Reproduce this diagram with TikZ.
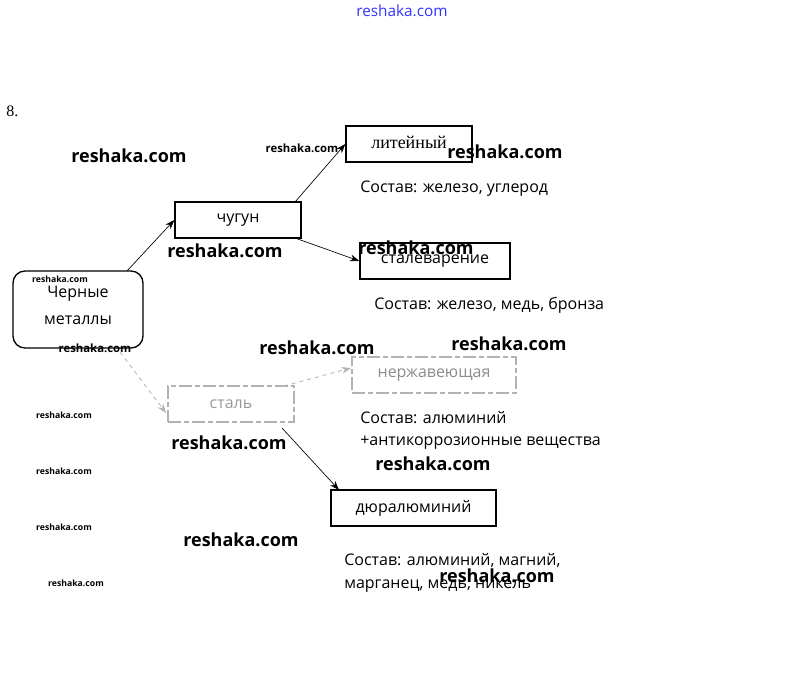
\documentclass[tikz,border=0pt]{standalone}
\usepackage{fontspec}
\setmainfont{Open Sans}
\newfontfamily\serifit{Liberation Serif}
\usetikzlibrary{arrows.meta}
\begin{document}
\begin{tikzpicture}[x=0.75pt,y=-0.75pt,
  box/.style={draw=black,line width=1pt,inner sep=0pt},
  fadebox/.style={draw=gray!60,line width=0.9pt,inner sep=0pt,dash pattern=on 10pt off 2pt on 4pt off 2pt},
  conn/.style={draw=black,line width=0.5pt,-{Stealth[length=7pt,width=5pt]}},
  fadeconn/.style={draw=gray!60,line width=0.6pt,dashed,-{Stealth[length=7pt,width=5pt]}},
  txt/.style={font=\fontsize{12}{13}\selectfont},
  lbl/.style={txt,anchor=west,inner sep=0pt},
  wmbig/.style={font=\fontsize{13.5}{14}\bfseries\selectfont,inner sep=0pt},
  wmsmall/.style={font=\fontsize{8.5}{9}\bfseries\selectfont,inner sep=0pt},
  wmtiny/.style={font=\fontsize{6.5}{7}\bfseries\selectfont,inner sep=0pt}]
\useasboundingbox[fill=white] (0,0) rectangle (802,696);
% top watermark
\node[text=blue!80,font=\fontsize{11.5}{12}\selectfont,inner sep=0pt] (wtop) at (402,11) {reshaka.com};
\node[font=\fontsize{12}{13}\serifit\selectfont,anchor=west,inner sep=0pt] (num) at (6,111) {8.};
% boxes
\node[box,rounded corners=9pt,minimum width=130*0.75pt,minimum height=77*0.75pt] (cm) at (78,309.5) {};
\node[txt,inner sep=0pt] (cm1) at (78,294) {Черные};
\node[txt,inner sep=0pt] (cm2) at (78,320) {металлы};
\node[box,txt,minimum width=126*0.75pt,minimum height=36*0.75pt] (chug) at (238,220) {чугун};
\node[box,minimum width=126*0.75pt,minimum height=36*0.75pt,font=\fontsize{13.5}{14}\serifit\selectfont] (lit) at (409,144) {\raisebox{2pt}{литейный}};
\node[box,txt,minimum width=150*0.75pt,minimum height=36*0.75pt] (stv) at (435,261) {\raisebox{-1pt}{сталеварение}};
\node[fadebox,txt,minimum width=126*0.75pt,minimum height=36*0.75pt,text=gray!80] (stal) at (231,404) {сталь};
\node[fadebox,txt,minimum width=164*0.75pt,minimum height=36*0.75pt,text=gray!90] (nerzh) at (434,375) {нержавеющая};
\node[box,txt,minimum width=165*0.75pt,minimum height=36*0.75pt] (dur) at (413.5,508) {дюралюминий};
% composition labels
\node[lbl] (s1) at (360,189) {Состав: железо, углерод};
\node[lbl] (s2) at (374,305) {Состав: железо, медь, бронза};
\node[lbl] (s3a) at (360,418) {Состав: алюминий};
\node[lbl] (s3b) at (360,443) {+антикоррозионные вещества};
\node[lbl] (s4a) at (344,560) {Состав: алюминий, магний,};
\node[lbl] (s4b) at (344,586) {марганец, медь, никель};
% connectors
\coordinate (a1) at (127,271);
\draw[conn] (a1) -- (chug.west);
\coordinate (a2) at (295,202);
\draw[conn] (a2) -- (lit.west);
\coordinate (a3) at (295,238);
\draw[conn] (a3) -- (stv.west);
\coordinate (a4) at (120,352);
\coordinate (a4e) at (166,413);
\draw[fadeconn] (a4) -- (a4e);
\coordinate (a5) at (284,386);
\coordinate (a5e) at (351,368);
\draw[fadeconn] (a5) -- (a5e);
\coordinate (a6) at (282,428);
\coordinate (a6e) at (339,490);
\draw[conn] (a6) -- (a6e);
% watermarks
\node[wmbig] (w1) at (129,156) {reshaka.com};
\node[wmbig] (w2) at (505,152) {reshaka.com};
\node[wmbig] (w3) at (225,251) {reshaka.com};
\node[wmbig] (w4) at (416,248) {reshaka.com};
\node[wmbig] (w5) at (317,348) {reshaka.com};
\node[wmbig] (w6) at (509,344) {reshaka.com};
\node[wmbig] (w7) at (229,443) {reshaka.com};
\node[wmbig] (w8) at (433,464) {reshaka.com};
\node[wmbig] (w9) at (241,540) {reshaka.com};
\node[wmbig] (w10) at (497,576) {reshaka.com};
\node[wmsmall] (w11) at (302,148) {reshaka.com};
\node[wmsmall] (w12) at (95,348) {reshaka.com};
\node[wmtiny] (w13) at (60,279) {reshaka.com};
\node[wmtiny] (w14) at (64,415) {reshaka.com};
\node[wmtiny] (w15) at (64,471) {reshaka.com};
\node[wmtiny] (w16) at (64,527) {reshaka.com};
\node[wmtiny] (w17) at (76,583) {reshaka.com};
\end{tikzpicture}
\end{document}
